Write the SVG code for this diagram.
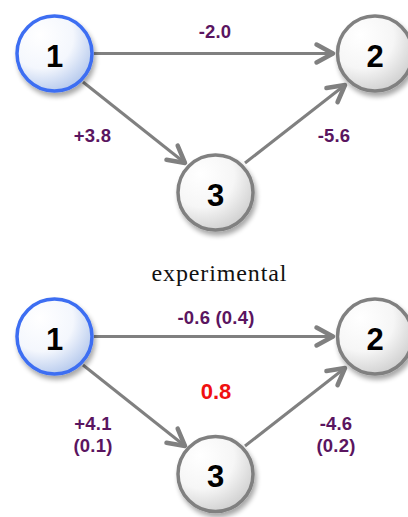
<svg xmlns="http://www.w3.org/2000/svg" width="408" height="517" viewBox="0 0 408 517">
<style>
.edge{fill:none;stroke:#808080;stroke-width:3;marker-end:url(#arr)}
.nb{stroke:#3d6ef2;stroke-width:3.5;fill:url(#gBlue);filter:url(#sh)}
.ng{stroke:#808080;stroke-width:3.5;fill:url(#gGray);filter:url(#sh)}
.num{font-family:"Liberation Sans",Arial,sans-serif;font-weight:bold;font-size:31px;fill:#000;text-anchor:middle}
.lbl{font-family:"Liberation Sans",Arial,sans-serif;font-weight:bold;font-size:18.5px;fill:#5a1560;text-anchor:middle;letter-spacing:0.2px}
.red{font-family:"Liberation Sans",Arial,sans-serif;font-weight:bold;font-size:22px;fill:#f01010;text-anchor:middle}
.cap{font-family:"Liberation Serif","Times New Roman",serif;font-size:24px;fill:#111;text-anchor:middle}
</style>
<defs>
<radialGradient id="gBlue" cx="0.35" cy="0.3" r="0.85" fx="0.3" fy="0.25">
<stop offset="0" stop-color="#ffffff"/><stop offset="0.5" stop-color="#f4f7fd"/><stop offset="1" stop-color="#a2bbe8"/>
</radialGradient>
<radialGradient id="gGray" cx="0.35" cy="0.3" r="0.85" fx="0.3" fy="0.25">
<stop offset="0" stop-color="#ffffff"/><stop offset="0.5" stop-color="#f6f6f6"/><stop offset="1" stop-color="#c4c4c4"/>
</radialGradient>
<filter id="sh" x="-30%" y="-30%" width="170%" height="170%">
<feGaussianBlur in="SourceAlpha" stdDeviation="2.5"/>
<feOffset dx="2" dy="4" result="b"/>
<feComponentTransfer><feFuncA type="linear" slope="0.35"/></feComponentTransfer>
<feMerge><feMergeNode/><feMergeNode in="SourceGraphic"/></feMerge>
</filter>
<marker id="arr" markerUnits="userSpaceOnUse" markerWidth="30" markerHeight="30" viewBox="-16 -10 20 20" refX="0" refY="0" orient="auto">
<path d="M-11,-6 L0,0 L-11,6" fill="none" stroke="#808080" stroke-width="3" stroke-linecap="round" stroke-linejoin="round"/>
</marker>
</defs>

<g id="connectors">
<line class="edge" x1="94" y1="53.5" x2="333" y2="53.5"/>
<line class="edge" x1="83" y1="82" x2="185" y2="163"/>
<line class="edge" x1="245" y1="163" x2="345" y2="85"/>
<line class="edge" x1="94" y1="336.5" x2="333" y2="336.5"/>
<line class="edge" x1="83" y1="365" x2="185" y2="446"/>
<line class="edge" x1="245" y1="446" x2="345" y2="368"/>
</g>

<g id="labels">
<text class="lbl" x="215" y="38">-2.0</text>
<text class="lbl" x="92.5" y="142">+3.8</text>
<text class="lbl" x="334" y="142">-5.6</text>
<text class="cap" x="219" y="281" textLength="135" lengthAdjust="spacing">experimental</text>
<text class="lbl" x="216" y="323.5">-0.6 (0.4)</text>
<text class="red" x="216" y="399">0.8</text>
<text class="lbl" x="93" y="430">+4.1</text>
<text class="lbl" x="93" y="452">(0.1)</text>
<text class="lbl" x="336" y="430">-4.6</text>
<text class="lbl" x="336" y="452">(0.2)</text>
</g>

<g id="top-node-1"><circle class="nb" cx="54.5" cy="53.5" r="37.5"/><text class="num" x="54.5" y="66.5">1</text></g>
<g id="top-node-2"><circle class="ng" cx="375" cy="53.5" r="37.5"/><text class="num" x="375" y="66.5">2</text></g>
<g id="top-node-3"><circle class="ng" cx="215.5" cy="192.5" r="37.5"/><text class="num" x="215.5" y="206">3</text></g>

<g id="bottom-node-1"><circle class="nb" cx="54.5" cy="336.5" r="37.5"/><text class="num" x="54.5" y="349.5">1</text></g>
<g id="bottom-node-2"><circle class="ng" cx="375" cy="336.5" r="37.5"/><text class="num" x="375" y="349.5">2</text></g>
<g id="bottom-node-3"><circle class="ng" cx="215.5" cy="474" r="37.5"/><text class="num" x="215.5" y="487">3</text></g>
</svg>
